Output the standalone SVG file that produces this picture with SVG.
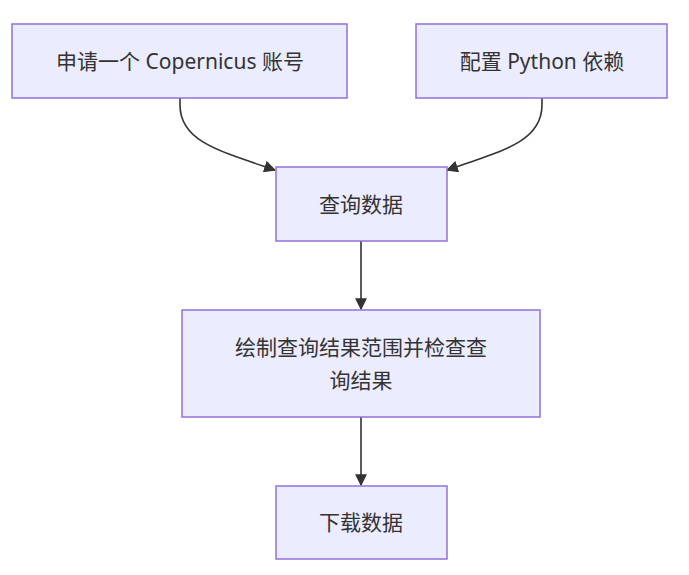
<svg xmlns="http://www.w3.org/2000/svg" width="689" height="575" viewBox="0 0 689 575">
<style>
.node rect{fill:#ECECFF;stroke:#9370DB;stroke-width:1.5}
.node text{font-family:"Noto Sans","Noto Sans CJK SC",sans-serif;font-size:21px;fill:#333;text-anchor:middle;dominant-baseline:central}
.edge{fill:none;stroke:#333;stroke-width:1.6}
</style>
<defs>
<marker id="arrow" viewBox="0 0 10 10" refX="9" refY="5" markerWidth="12" markerHeight="12" markerUnits="userSpaceOnUse" orient="auto">
<path d="M0,0 L10,5 L0,10 z" fill="#333"/>
</marker>
</defs>
<rect width="689" height="575" fill="#ffffff"/>
<g id="connectors">
<path class="edge" d="M180,98 L180,105 C180,140 215,150 275,170" marker-end="url(#arrow)"/>
<path class="edge" d="M542,98 L542,105 C542,140 507,150 447,170" marker-end="url(#arrow)"/>
<path class="edge" d="M361,241 L361,309" marker-end="url(#arrow)"/>
<path class="edge" d="M361,417 L361,485" marker-end="url(#arrow)"/>
</g>
<g id="nodeA" class="node">
<rect x="12" y="24" width="335" height="74"/>
<text x="180" y="61">申请一个 Copernicus 账号</text>
</g>
<g id="nodeB" class="node">
<rect x="416" y="24" width="251" height="74"/>
<text x="542" y="61">配置 Python 依赖</text>
</g>
<g id="nodeC" class="node">
<rect x="276" y="167" width="171" height="74"/>
<text x="361" y="204">查询数据</text>
</g>
<g id="nodeD" class="node">
<rect x="182" y="310" width="358" height="107"/>
<text x="361" y="347">绘制查询结果范围并检查查</text>
<text x="361" y="380">询结果</text>
</g>
<g id="nodeE" class="node">
<rect x="276" y="486" width="171" height="73"/>
<text x="361" y="522">下载数据</text>
</g>
</svg>
